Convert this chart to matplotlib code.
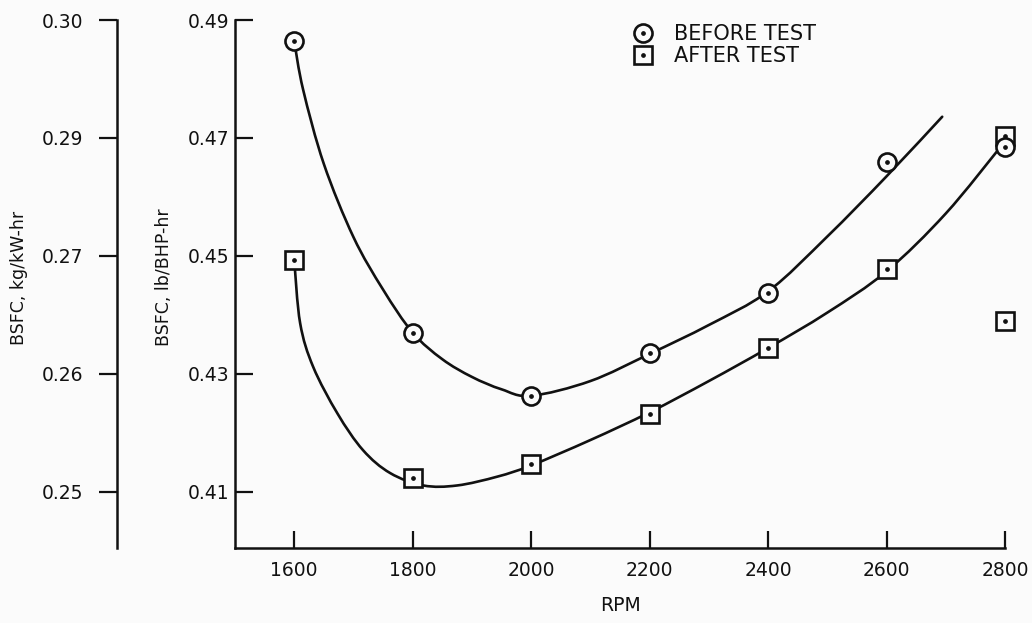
import matplotlib
matplotlib.use("Agg")
import numpy as np
import matplotlib.pyplot as plt
from matplotlib.path import Path
from matplotlib.patches import PathPatch
from matplotlib.ticker import FixedLocator, FixedFormatter

# test points, BSFC in lb/BHP-hr
rpm = [1600, 1800, 2000, 2200, 2400, 2600, 2800]
bsfc_before = [0.4864, 0.4369, 0.4262, 0.4335, 0.4437, 0.4660, 0.4684]
bsfc_after = [0.4493, 0.4123, 0.4147, 0.4232, 0.4344, 0.4478, 0.4704]
rpm_after_extra = [2800]
bsfc_after_extra = [0.4390]

# faired curves drawn through the points
fair_before_rpm = [1600, 1615, 1650, 1700, 1750, 1800, 1850, 1900, 1950, 2000,
                   2100, 2200, 2300, 2400, 2500, 2600, 2694]
fair_before = [0.4864, 0.4782, 0.4656, 0.4532, 0.4443, 0.4370, 0.4325, 0.4295,
               0.4274, 0.4263, 0.4288, 0.4334, 0.4383, 0.4440, 0.4533,
               0.4635, 0.4736]
fair_after_rpm = [1600, 1610, 1632, 1673, 1716, 1762, 1818, 1875, 1943, 2000,
                  2100, 2200, 2300, 2400, 2500, 2600, 2700, 2795]
fair_after = [0.4493, 0.4386, 0.4312, 0.4233, 0.4171, 0.4132, 0.4111, 0.4111,
              0.4126, 0.4145, 0.4188, 0.4235, 0.4288, 0.4344, 0.4404, 0.4474,
              0.4572, 0.4688]

rpm_ticks = [1600, 1800, 2000, 2200, 2400, 2600, 2800]
lb_ticks = [0.41, 0.43, 0.45, 0.47, 0.49]
lb_labels = ["0.41", "0.43", "0.45", "0.47", "0.49"]
kg_labels = ["0.25", "0.26", "0.27", "0.29", "0.30"]

ink = "#111111"
paper = "#fbfbfb"
plt.rcParams["font.family"] = ["DejaVu Sans"]
plt.rcParams["text.color"] = ink


def smooth_path(xs, ys):
    # Catmull-Rom through the points, written as cubic Bezier segments
    p = np.column_stack([xs, ys]).astype(float)
    n = len(p)
    verts = [p[0]]
    codes = [Path.MOVETO]
    for i in range(n - 1):
        p0 = p[i - 1] if i > 0 else p[i]
        p1, p2 = p[i], p[i + 1]
        p3 = p[i + 2] if i + 2 < n else p[i + 1]
        verts += [p1 + (p2 - p0) / 6, p2 - (p3 - p1) / 6, p2]
        codes += [Path.CURVE4] * 3
    return Path(verts, codes)


W, H = 1032, 623
fig = plt.figure(figsize=(W / 100, H / 100), dpi=100, facecolor=paper)
ax = fig.add_axes([235 / W, 1 - 548 / H, 770 / W, 528 / H], facecolor="none")

ax.set_xlim(1500, 2800)
ax.set_ylim(0.4005, 0.49)
for s in ["top", "right"]:
    ax.spines[s].set_visible(False)
for s in ["left", "bottom"]:
    ax.spines[s].set_linewidth(1.8)
    ax.spines[s].set_color(ink)

ax.xaxis.set_major_locator(FixedLocator(rpm_ticks))
ax.yaxis.set_major_locator(FixedLocator(lb_ticks))
ax.yaxis.set_major_formatter(FixedFormatter(lb_labels))
ax.tick_params(axis="x", direction="in", length=12, width=1.6, pad=9,
               labelsize=13.5, colors=ink)
ax.tick_params(axis="y", direction="in", length=13, width=1.6, pad=4,
               labelsize=13.5, colors=ink)
ax.set_xlabel("RPM", fontsize=13.5, labelpad=12, color=ink)

# metric scale on a second spine further left
ax2 = ax.twinx()
ax2.set_ylim(ax.get_ylim())
ax2.spines["right"].set_visible(False)
ax2.spines["top"].set_visible(False)
ax2.spines["bottom"].set_visible(False)
ax2.spines["left"].set_visible(True)
ax2.spines["left"].set_position(("axes", -118 / 770))
ax2.spines["left"].set_linewidth(1.8)
ax2.spines["left"].set_color(ink)
ax2.yaxis.set_ticks_position("left")
ax2.yaxis.set_label_position("left")
ax2.yaxis.set_major_locator(FixedLocator(lb_ticks))
ax2.yaxis.set_major_formatter(FixedFormatter(kg_labels))
ax2.tick_params(axis="y", direction="out", length=13, width=1.6, pad=11,
                labelsize=13.5, colors=ink)

fig.text(19 / W, 1 - 278 / H, "BSFC, kg/kW-hr", rotation=90, ha="center",
         va="center", fontsize=12.5)
fig.text(164 / W, 1 - 277 / H, "BSFC, lb/BHP-hr", rotation=90, ha="center",
         va="center", fontsize=12.5)

# curves
for xs, ys in [(fair_before_rpm, fair_before), (fair_after_rpm, fair_after)]:
    ax.add_patch(PathPatch(smooth_path(xs, ys), fill=False, edgecolor=ink,
                           lw=1.9, capstyle="round", joinstyle="round",
                           zorder=2))

mk = dict(ls="none", ms=13, mew=1.9, mec=ink, mfc=paper, clip_on=False)
dot = dict(ls="none", marker="o", ms=2.4, color=ink, clip_on=False)
sq, = ax.plot(rpm, bsfc_after, marker="s", zorder=3, **mk)
sq_dot, = ax.plot(rpm, bsfc_after, zorder=3.1, **dot)
ax.plot(rpm_after_extra, bsfc_after_extra, marker="s", zorder=3, **mk)
ax.plot(rpm_after_extra, bsfc_after_extra, zorder=3.1, **dot)
ci, = ax.plot(rpm, bsfc_before, marker="o", zorder=4, **mk)
ci_dot, = ax.plot(rpm, bsfc_before, zorder=4.1, **dot)

leg = ax.legend([(ci, ci_dot), (sq, sq_dot)], ["BEFORE TEST", "AFTER TEST"],
                loc="upper left", bbox_to_anchor=(633 / W, 1 - 24 / H),
                bbox_transform=fig.transFigure, frameon=False, fontsize=15,
                handlelength=1.0, handletextpad=0.95, labelspacing=0.1,
                borderpad=0, borderaxespad=0, markerscale=1.0)
for t in leg.get_texts():
    t.set_color(ink)

fig.savefig("out.png", dpi=100, facecolor=paper)
